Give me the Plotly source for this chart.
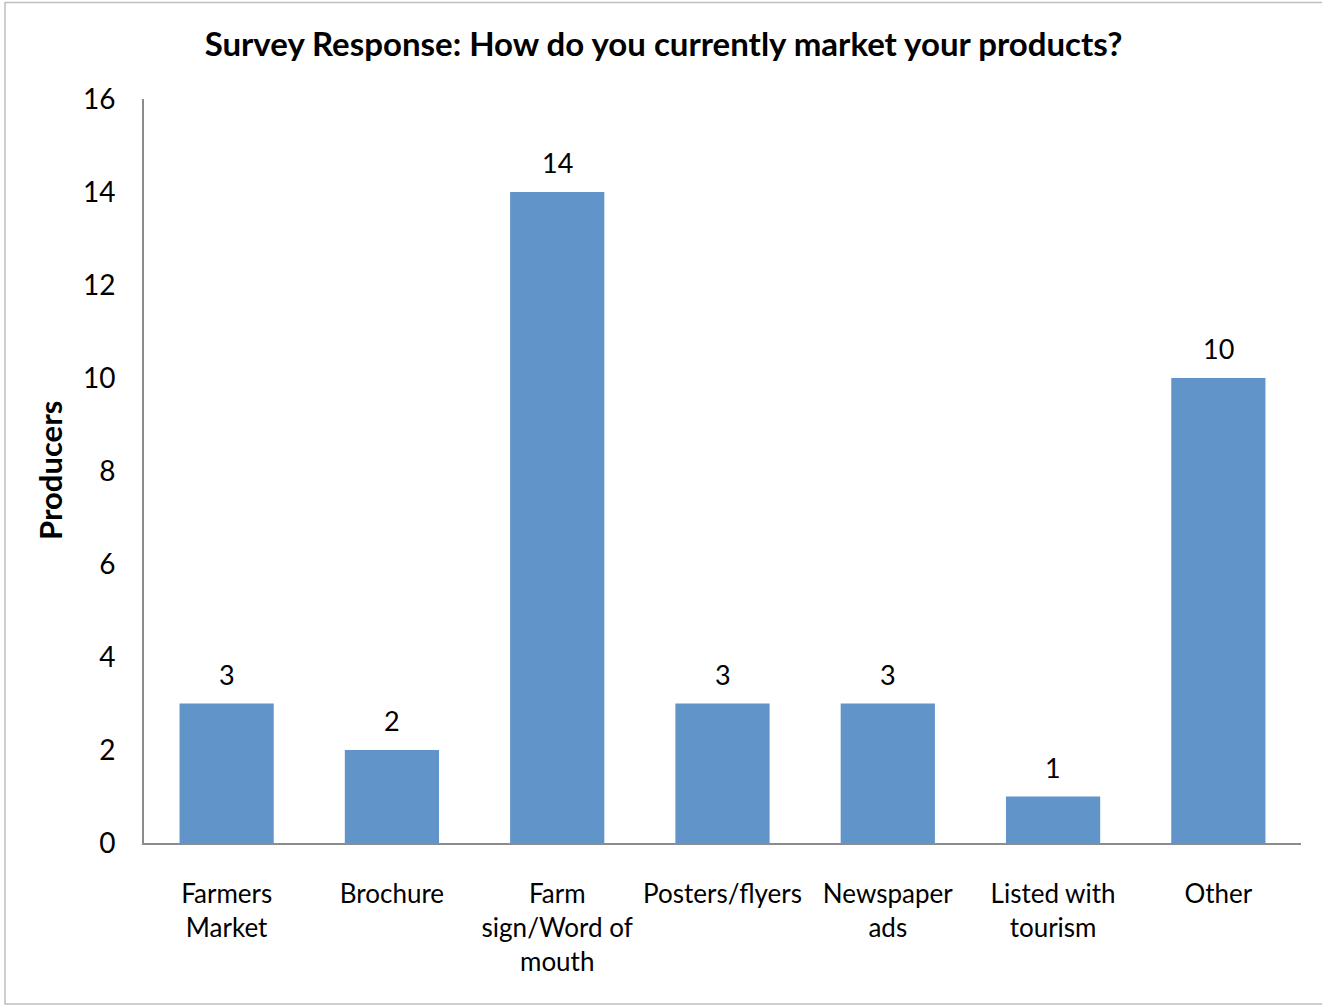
import plotly.graph_objects as go

# Survey data
categories = [
    "Farmers<br>Market",
    "Brochure",
    "Farm<br>sign/Word of<br>mouth",
    "Posters/flyers",
    "Newspaper<br>ads",
    "Listed with<br>tourism",
    "Other",
]
producers = [3, 2, 14, 3, 3, 1, 10]
y_ticks = [0, 2, 4, 6, 8, 10, 12, 14, 16]

BAR_COLOR = "#6194C8"
AXIS_COLOR = "#8C8C8C"
FONT = "Lato"

W, H = 1322, 1005
L, R, T, B = 144, 21, 99, 162
PW, PH = W - L - R, H - T - B


def px_x(px):
    return (px - L) / PW


def px_y(py):
    return (H - B - py) / PH


fig = go.Figure(
    go.Bar(
        x=categories,
        y=producers,
        marker=dict(color=BAR_COLOR, line=dict(width=0)),
        hoverinfo="skip",
    )
)

# value labels above each bar
for cat, val in zip(categories, producers):
    fig.add_annotation(
        x=cat, y=val, text=str(val), showarrow=False,
        yanchor="bottom", yshift=11,
        font=dict(family=FONT, size=27, color="#000000"),
    )

# rotated axis title
fig.add_annotation(
    xref="paper", yref="paper", x=px_x(50), y=px_y(471),
    text="<b>Producers</b>", textangle=-90, showarrow=False,
    xanchor="center", yanchor="middle",
    font=dict(family=FONT, size=31, color="#000000"),
)

# outer chart frame
fig.add_shape(
    type="rect", xref="paper", yref="paper",
    x0=px_x(5), x1=px_x(1340), y0=px_y(1004), y1=px_y(2.5),
    line=dict(color="#BFBFBF", width=1.5), fillcolor="rgba(0,0,0,0)",
    layer="below",
)

fig.update_layout(
    width=W, height=H,
    margin=dict(l=L, r=R, t=T, b=B, pad=0),
    paper_bgcolor="#FFFFFF",
    plot_bgcolor="#FFFFFF",
    bargap=0.43,
    showlegend=False,
    title=dict(
        text="<b>Survey Response: How do you currently market your products?</b>",
        x=663.5 / W, xanchor="center",
        y=1 - 44 / H, yanchor="middle",
        font=dict(family=FONT, size=33, color="#000000"),
    ),
    font=dict(family=FONT, color="#000000"),
)

fig.update_xaxes(
    showline=True, linecolor=AXIS_COLOR, linewidth=2,
    ticks="", showgrid=False, zeroline=False,
    tickfont=dict(family=FONT, size=26, color="#000000"),
    ticklabelstandoff=27,
)
fig.update_yaxes(
    range=[0, 16], tickvals=y_ticks,
    showline=True, linecolor=AXIS_COLOR, linewidth=2,
    ticks="", showgrid=False, zeroline=False,
    tickfont=dict(family=FONT, size=28, color="#000000"),
    ticklabelstandoff=21,
)

fig.write_html("out.html")
